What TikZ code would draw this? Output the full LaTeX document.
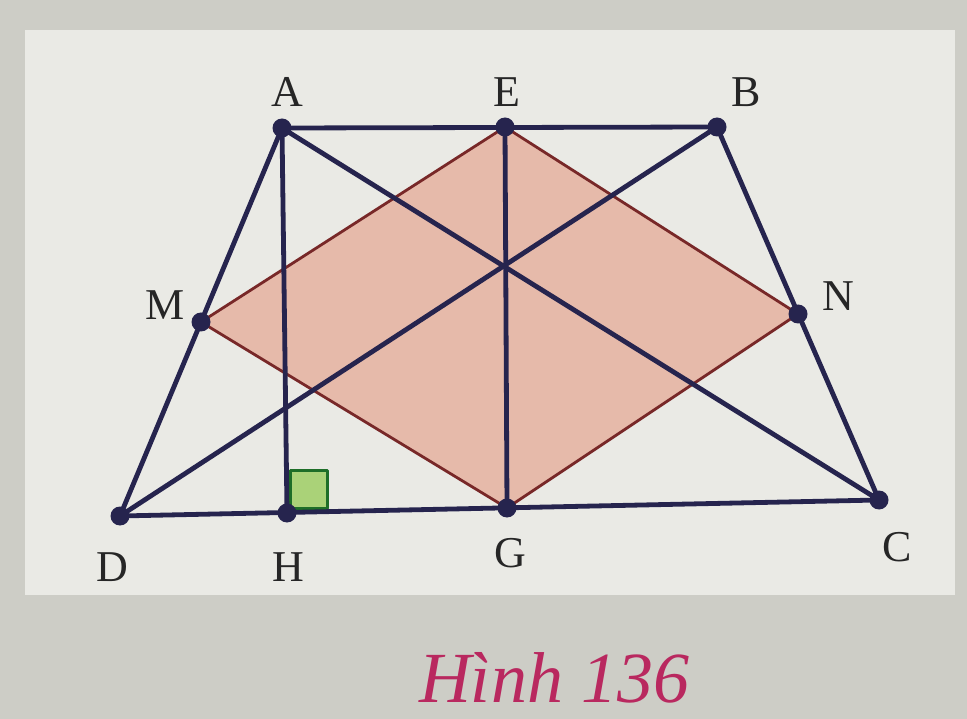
\documentclass[tikz,border=0pt]{standalone}
\usepackage{fontspec}
\setmainfont{Liberation Serif}
\usetikzlibrary{positioning}
\definecolor{navy}{RGB}{38,36,78}
\definecolor{rhofill}{RGB}{230,186,170}
\definecolor{rhoedge}{RGB}{120,40,40}
\definecolor{paper}{RGB}{234,234,229}
\definecolor{page}{RGB}{205,205,198}
\definecolor{capred}{RGB}{185,40,95}
\definecolor{sqgreen}{RGB}{30,110,40}
\definecolor{sqfill}{RGB}{170,210,120}
\begin{document}
\begin{tikzpicture}[x=1pt,y=-1pt,line join=round,
  seg/.style={navy,line width=4.8pt},
  rho/.style={rhoedge,line width=2.8pt},
  dot/.style={circle,fill=navy,inner sep=0pt,minimum size=19pt},
  lab/.style={font=\fontsize{44}{48}\selectfont,text=black!85}]
% paper
\fill[page] (0,0) rectangle (967,719);
\fill[paper] (25,30) rectangle (955,595);
\useasboundingbox (0,0) rectangle (967,719);
% points
\coordinate (A) at (282,128);
\coordinate (E) at (505,127);
\coordinate (B) at (717,127);
\coordinate (M) at (201,322);
\coordinate (N) at (798,314);
\coordinate (D) at (120,516);
\coordinate (H) at (287,513);
\coordinate (G) at (507,508);
\coordinate (C) at (879,500);
% rhombus MENG
\fill[rhofill] (M)--(E)--(N)--(G)--cycle;
\draw[rho] (M)--(E)--(N)--(G)--cycle;
% right angle at H
\draw[sqgreen,line width=3pt,fill=sqfill] (290,470) rectangle (327,508);
% trapezoid and diagonals
\draw[seg] (A)--(B)--(C)--(D)--cycle;
\draw[seg] (A)--(C);
\draw[seg] (B)--(D);
\draw[seg] (E)--(G);
\draw[seg] (A)--(H);
% dots
\foreach \p in {A,E,B,M,N,D,H,G,C}
  \node[dot] (d\p) at (\p) {};
% labels
\node[lab] (lA) at (287,92) {A};
\node[lab] (lE) at (507,92) {E};
\node[lab] (lB) at (746,92) {B};
\node[lab] (lM) at (165,305) {M};
\node[lab] (lN) at (838,296) {N};
\node[lab] (lD) at (112,567) {D};
\node[lab] (lH) at (288,567) {H};
\node[lab] (lG) at (510,553) {G};
\node[lab] (lC) at (897,547) {C};
% caption
\node[font=\fontsize{72}{76}\selectfont\itshape,text=capred] (cap) at (554,678) {Hình 136};
\end{tikzpicture}
\end{document}
